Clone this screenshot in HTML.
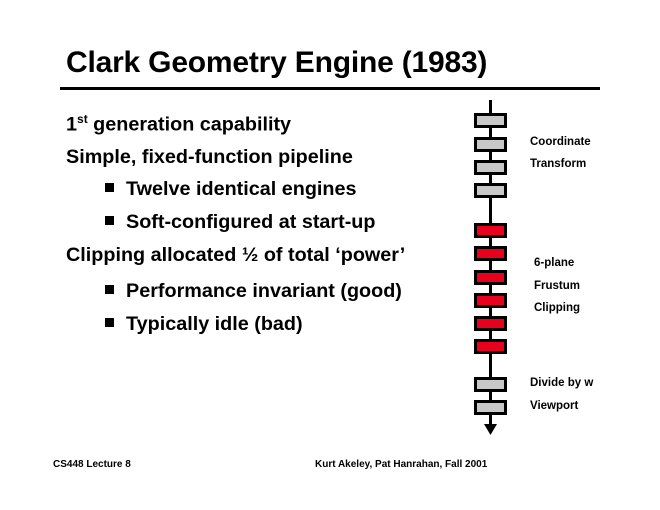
<!DOCTYPE html>
<html><head><style>
body{margin:0;width:660px;height:510px;background:#fff;position:relative;font-family:"Liberation Sans",sans-serif;font-weight:bold;color:#000;overflow:hidden}
.t{position:absolute;white-space:nowrap}
.m{font-size:19.8px;letter-spacing:0px}
.b{position:absolute;left:474px;width:27px;height:9px;border:3px solid #000;background:#c8c8c8}
.r{background:#e8001c}
.sq{display:inline-block;width:9px;height:9px;background:#000;margin-right:12px;vertical-align:3px}
</style></head><body>
<div class="t" style="left:66px;top:46px;font-size:30px;letter-spacing:-0.2px">Clark Geometry Engine (1983)</div>
<div style="position:absolute;left:60px;top:87px;width:540px;height:3px;background:#000"></div>
<div class="t m" style="left:66px;top:112px">1<sup style="font-size:12px">st</sup> generation capability</div>
<div class="t m" style="left:66px;top:146px">Simple, fixed-function pipeline</div>
<div class="t m" style="left:105px;top:178px"><span class="sq"></span>Twelve identical engines</div>
<div class="t m" style="left:105px;top:211px"><span class="sq"></span>Soft-configured at start-up</div>
<div class="t m" style="left:66px;top:244px">Clipping allocated ½ of total ‘power’</div>
<div class="t m" style="left:105px;top:280px"><span class="sq"></span>Performance invariant (good)</div>
<div class="t m" style="left:105px;top:313px"><span class="sq"></span>Typically idle (bad)</div>
<div style="position:absolute;left:489px;top:100px;width:3px;height:328px;background:#000"></div>
<svg style="position:absolute;left:484px;top:424px" width="14" height="12"><polygon points="0,0 13,0 6.5,11" fill="#000"/></svg>
<div class="b" style="top:113px"></div>
<div class="b" style="top:137px"></div>
<div class="b" style="top:160px"></div>
<div class="b" style="top:183px"></div>
<div class="b r" style="top:223px"></div>
<div class="b r" style="top:246px"></div>
<div class="b r" style="top:270px"></div>
<div class="b r" style="top:293px"></div>
<div class="b r" style="top:316px"></div>
<div class="b r" style="top:339px"></div>
<div class="b" style="top:377px"></div>
<div class="b" style="top:400px"></div>
<div class="t" style="left:530px;top:136px;font-size:11.5px">Coordinate</div>
<div class="t" style="left:530px;top:158px;font-size:11.5px">Transform</div>
<div class="t" style="left:534px;top:257px;font-size:11.5px">6-plane</div>
<div class="t" style="left:534px;top:280px;font-size:11.5px">Frustum</div>
<div class="t" style="left:534px;top:302px;font-size:11.5px">Clipping</div>
<div class="t" style="left:530px;top:377px;font-size:11.5px">Divide by w</div>
<div class="t" style="left:530px;top:400px;font-size:11.5px">Viewport</div>
<div class="t" style="left:53px;top:459px;font-size:10px">CS448 Lecture 8</div>
<div class="t" style="left:315px;top:459px;font-size:10px">Kurt Akeley, Pat Hanrahan, Fall 2001</div>
</body></html>
